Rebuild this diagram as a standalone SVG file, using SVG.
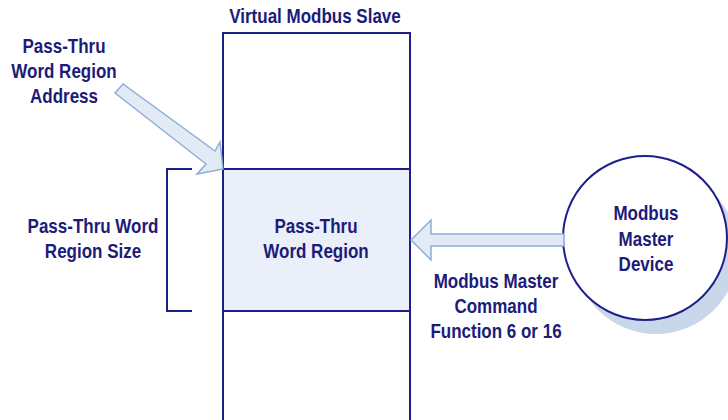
<svg xmlns="http://www.w3.org/2000/svg" width="728" height="420" viewBox="0 0 728 420">
  <defs>
    <style>
      .lbl { font-family: "Liberation Sans", Arial, sans-serif; font-weight: bold; font-size: 20px; fill: #1c1c78; text-anchor: middle; }
      .frame { fill: none; stroke: #1f1f8c; stroke-width: 2; }
      .arrow { fill: #e2eaf6; stroke: #8eaed6; stroke-width: 1.5; stroke-linejoin: miter; }
    </style>
  </defs>
  <rect width="728" height="420" fill="#ffffff"/>

  <!-- Virtual Modbus Slave register column -->
  <g id="virtual-slave">
    <g transform="translate(315,0) scale(0.85,1)">
      <text class="lbl" x="0" y="23">Virtual Modbus Slave</text>
    </g>
    <rect class="frame" x="223" y="33" width="187" height="400"/>
  </g>

  <!-- Pass-Thru Word Region inside the slave -->
  <g id="pass-thru-region">
    <rect x="223" y="169" width="187" height="142" fill="#eaeff9" stroke="#1f1f8c" stroke-width="2"/>
    <g transform="translate(316,0) scale(0.85,1)">
      <text class="lbl" x="0" y="233">Pass-Thru</text>
      <text class="lbl" x="0" y="258">Word Region</text>
    </g>
  </g>

  <!-- Modbus Master Device -->
  <g id="master-device">
    <circle cx="656" cy="252" r="82" fill="#c9d7eb"/>
    <circle cx="645" cy="238" r="82" fill="#ffffff" stroke="#1f1f8c" stroke-width="2"/>
    <g transform="translate(646,0) scale(0.85,1)">
      <text class="lbl" x="0" y="220">Modbus</text>
      <text class="lbl" x="0" y="246">Master</text>
      <text class="lbl" x="0" y="271">Device</text>
    </g>
  </g>

  <!-- Address label -->
  <g id="address-label">
    <g transform="translate(64,0) scale(0.85,1)">
      <text class="lbl" x="0" y="53">Pass-Thru</text>
      <text class="lbl" x="0" y="78">Word Region</text>
      <text class="lbl" x="0" y="103">Address</text>
    </g>
  </g>

  <!-- Size label with bracket -->
  <g id="size-label">
    <g transform="translate(93,0) scale(0.85,1)">
      <text class="lbl" x="0" y="233">Pass-Thru Word</text>
      <text class="lbl" x="0" y="258">Region Size</text>
    </g>
    <polyline class="frame" points="192,169 167,169 167,311 192,311"/>
  </g>

  <!-- Command label -->
  <g id="command-label">
    <g transform="translate(496,0) scale(0.85,1)">
      <text class="lbl" x="0" y="288">Modbus Master</text>
      <text class="lbl" x="0" y="313">Command</text>
      <text class="lbl" x="0" y="338">Function 6 or 16</text>
    </g>
  </g>

  <!-- Block arrows -->
  <g id="connectors">
    <polygon class="arrow" points="115,93 123,84 215,151 220,142 223,169 197,174 206,164"/>
    <polygon class="arrow" points="564,234 431,234 431,220 411,240 431,260 431,246 564,246"/>
  </g>
</svg>
